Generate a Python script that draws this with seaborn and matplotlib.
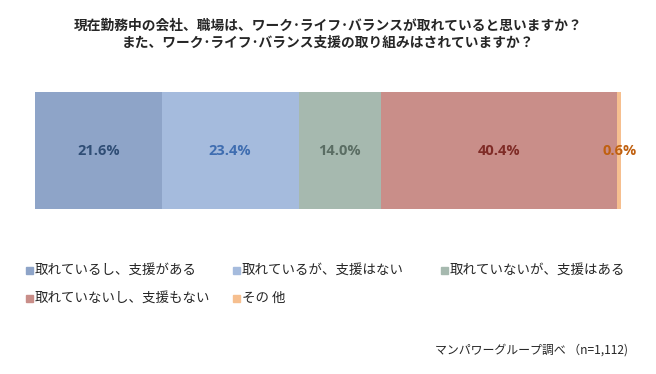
import numpy as np
import pandas as pd
import matplotlib
matplotlib.use('Agg')
import matplotlib.pyplot as plt
from matplotlib.patches import Rectangle
import seaborn as sns

sns.set_theme(style='white')
plt.rcParams['font.family'] = ['Noto Sans CJK JP', 'DejaVu Sans']

# data
categories = ['取れているし、支援がある', '取れているが、支援はない', '取れていないが、支援はある',
              '取れていないし、支援もない', 'その 他']
values = [21.6, 23.4, 14.0, 40.4, 0.6]
bar_colors = ['#8EA4C8', '#A5BBDD', '#A6B9AF', '#C98E89', '#F6BF8F']
label_colors = ['#2F4D75', '#3F6DB0', '#5A6D63', '#7F2B26', '#C0600F']
title = '現在勤務中の会社、職場は、ワーク･ライフ･バランスが取れていると思いますか？\nまた、ワーク･ライフ･バランス支援の取り組みはされていますか？'
source = 'マンパワーグループ調べ （n=1,112)'

df = pd.DataFrame({'cat': categories, 'val': values})
df['cum'] = df['val'].cumsum()
df['start'] = df['cum'] - df['val']
df['row'] = ''

fig = plt.figure(figsize=(6.56, 3.74), dpi=100)
W, H = 656, 374
# bar area: x 35..621, y 92..209 (pixels from top)
ax = fig.add_axes([35 / W, 1 - 209 / H, 586 / W, 117 / H])

# stacked horizontal bar: draw cumulative totals, largest first
for i in reversed(range(len(df))):
    sns.barplot(x=[df['cum'][i]], y=df['row'][i:i + 1], orient='h', color=bar_colors[i],
                width=1.0, saturation=1, ax=ax, linewidth=0)

ax.set_xlim(0, 100)
ax.set_ylim(0.5, -0.5)
ax.axis('off')

for i in range(len(df)):
    xc = df['start'][i] + df['val'][i] / 2
    ax.text(xc, 0, f'{values[i]:.1f}%', ha='center', va='center', fontsize=10.5,
            fontweight='bold', color=label_colors[i], family=['Open Sans', 'DejaVu Sans'])

fig.text(0.5, 1 - 34.5 / H, title, ha='center', va='center', fontsize=9.9, fontweight='bold',
         linespacing=1.3)

# legend, laid out like the original
pos = [(26, 270), (233, 270), (441, 270), (26, 298), (233, 298)]
for (px, py), c, lab in zip(pos, bar_colors, categories):
    fig.patches.append(Rectangle((px / W, 1 - (py + 3.5) / H), 7 / W, 7 / H,
                                 transform=fig.transFigure, color=c, figure=fig))
    fig.text((px + 9) / W, 1 - py / H, lab, ha='left', va='center', fontsize=9.7)

fig.text(628 / W, 1 - 350 / H, source, ha='right', va='center', fontsize=8.6)

fig.savefig('out.png', dpi=100, facecolor='white')
